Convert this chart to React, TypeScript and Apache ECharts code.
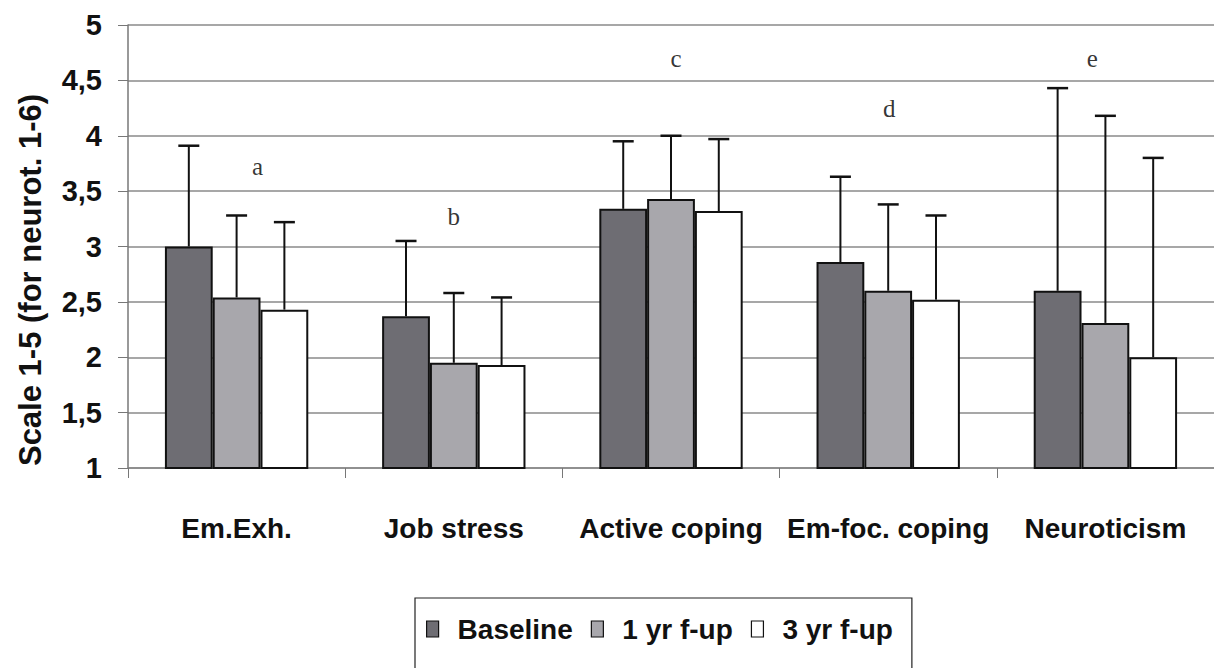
import React, { useEffect, useRef } from "react";
import * as echarts from "echarts";

const categories = ["Em.Exh.", "Job stress", "Active coping", "Em-foc. coping", "Neuroticism"];
const seriesNames = ["Baseline", "1 yr f-up", "3 yr f-up"];
const baseline = [3.0, 2.37, 3.34, 2.86, 2.6];
const year1 = [2.54, 1.95, 3.43, 2.6, 2.31];
const year3 = [2.43, 1.93, 3.32, 2.52, 2.0];
const baselineUpper = [3.91, 3.05, 3.95, 3.63, 4.43];
const year1Upper = [3.28, 2.58, 4.0, 3.38, 4.18];
const year3Upper = [3.22, 2.54, 3.97, 3.28, 3.8];
const letters = ["a", "b", "c", "d", "e"];
const letterValues = [3.72, 3.27, 4.7, 4.25, 4.7];
const letterShift = [21, 0, 5, 1, -13];
const yTicks = [1, 1.5, 2, 2.5, 3, 3.5, 4, 4.5, 5];

const colors = ["#6e6d73", "#a8a7ac", "#ffffff"];
const FONT = "'Liberation Sans', Arial, sans-serif";
const BAR_FRAC = 0.22;

export default function App() {
  const ref = useRef<HTMLDivElement>(null);
  useEffect(() => {
    const chart = echarts.init(ref.current!, undefined, { renderer: "svg" });
    const means = [baseline, year1, year3];
    const uppers = [baselineUpper, year1Upper, year3Upper];

    const bars = seriesNames.map((name, s) => ({
      name,
      type: "bar",
      data: means[s],
      barWidth: BAR_FRAC * 100 + "%",
      barGap: "0%",
      itemStyle: { color: colors[s], borderColor: "#111", borderWidth: 2 },
      z: 2,
    }));

    const errs = seriesNames.map((name, s) => ({
      name: name + " err",
      type: "custom",
      z: 3,
      data: means[s].map((m, i) => [i, m, uppers[s][i]]),
      encode: { x: 0, y: [1, 2] },
      renderItem: (params: any, api: any) => {
        const ci = api.value(0);
        const base = api.coord([ci, api.value(1)]);
        const top = api.coord([ci, api.value(2)]);
        const bw = api.size([1, 0])[0] * BAR_FRAC;
        const x = base[0] + (s - 1) * bw;
        return {
          type: "group",
          children: [
            { type: "line", shape: { x1: x, y1: base[1], x2: x, y2: top[1] }, style: { stroke: "#111", lineWidth: 2 } },
            { type: "line", shape: { x1: x - 10.5, y1: top[1], x2: x + 10.5, y2: top[1] }, style: { stroke: "#111", lineWidth: 2.5 } },
          ],
        };
      },
    }));

    const letterSeries = {
      name: "letters",
      type: "scatter",
      symbolSize: 0,
      z: 4,
      data: letters.map((l, i) => ({
        value: [i, letterValues[i]],
        label: {
          show: true,
          formatter: l,
          position: "inside",
          offset: [letterShift[i], 0],
          fontFamily: "'Liberation Serif', 'Times New Roman', serif",
          fontSize: 25,
          color: "#000",
        },
      })),
    };

    chart.setOption({
      animation: false,
      backgroundColor: "#ffffff",
      grid: { left: 128, top: 25, width: 1087, height: 443, containLabel: false },
      legend: {
        data: seriesNames.map((n) => ({ name: n, icon: "rect" })),
        left: 415,
        top: 598,
        orient: "horizontal",
        itemWidth: 12,
        itemHeight: 16,
        itemGap: 18,
        borderColor: "#222",
        borderWidth: 1.2,
        padding: [14, 19, 40, 11],
        selectedMode: false,
        itemStyle: { borderColor: "#111", borderWidth: 1.2 },
        textStyle: {
          fontFamily: FONT,
          fontWeight: "bold",
          fontSize: 28,
          color: "#111",
          padding: [0, 0, 0, 14],
          lineHeight: 34,
        },
      },
      xAxis: {
        type: "category",
        data: categories,
        axisLine: { show: true, lineStyle: { color: "#888", width: 1.5 } },
        axisTick: { show: true, length: 10, lineStyle: { color: "#777" } },
        axisLabel: {
          margin: 46,
          fontFamily: FONT,
          fontWeight: "bold",
          fontSize: 28,
          color: "#111",
          interval: 0,
        },
      },
      yAxis: {
        type: "value",
        min: 1,
        max: 5,
        interval: 0.5,
        axisLine: { show: true, lineStyle: { color: "#777", width: 1.5 } },
        axisTick: { show: true, length: 10, lineStyle: { color: "#777" } },
        splitLine: { show: true, lineStyle: { color: "#8a8a8a", width: 1.5 } },
        axisLabel: {
          margin: 26,
          fontFamily: FONT,
          fontWeight: "bold",
          fontSize: 29,
          color: "#111",
          customValues: yTicks,
          formatter: (v: number) => String(v).replace(".", ","),
        },
      },
      graphic: [
        {
          type: "text",
          x: 30,
          y: 280,
          rotation: Math.PI / 2,
          style: {
            text: "Scale 1-5 (for neurot. 1-6)",
            fontFamily: FONT,
            fontWeight: "bold",
            fontSize: 31,
            fill: "#111",
            align: "center",
            verticalAlign: "middle",
          },
        },
      ],
      series: [...bars, ...errs, letterSeries],
    });
    return () => chart.dispose();
  }, []);
  return <div ref={ref} style={{ position: "absolute", left: 0, top: 0, width: 1214, height: 668 }} />;
}
